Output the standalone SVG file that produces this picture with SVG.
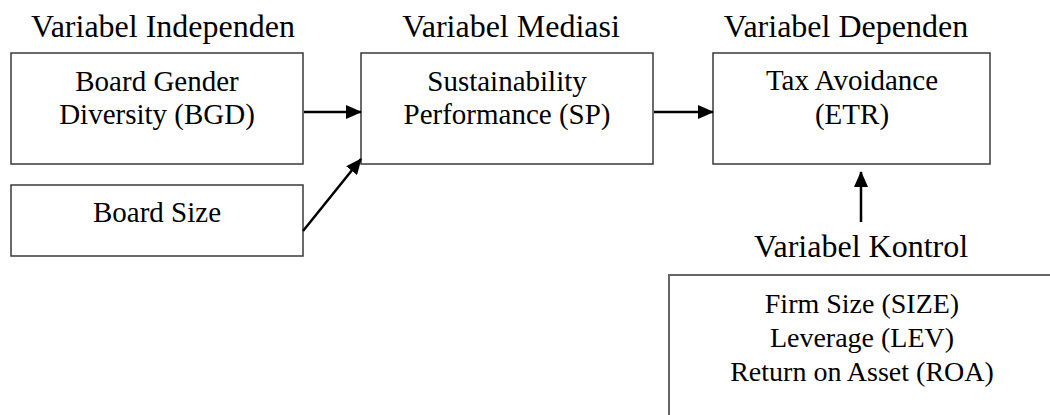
<svg xmlns="http://www.w3.org/2000/svg" width="1050" height="415" viewBox="0 0 1050 415">
  <style>
    .box { fill: #ffffff; stroke: #3a3a3a; stroke-width: 1.5; }
    .title { font-family: "Liberation Serif", "Times New Roman", serif; font-size: 32px; fill: #000; text-anchor: middle; }
    .lbl { font-family: "Liberation Serif", "Times New Roman", serif; font-size: 29px; fill: #000; text-anchor: middle; }
    .ctl { font-family: "Liberation Serif", "Times New Roman", serif; font-size: 28px; fill: #000; text-anchor: middle; }
    .conn { stroke: #000; stroke-width: 2.5; fill: none; marker-end: url(#arrow); }
  </style>
  <defs>
    <marker id="arrow" markerUnits="userSpaceOnUse" markerWidth="16" markerHeight="14" refX="15" refY="7" orient="auto">
      <path d="M0,0 L16,7 L0,14 Z" fill="#000"/>
    </marker>
  </defs>
  <rect width="1050" height="415" fill="#ffffff"/>

  <g id="titles">
    <text class="title" x="163" y="37">Variabel Independen</text>
    <text class="title" x="511" y="37">Variabel Mediasi</text>
    <text class="title" x="846" y="37">Variabel Dependen</text>
  </g>

  <g id="node-bgd">
    <rect class="box" x="11" y="53" width="292" height="111"/>
    <text class="lbl" x="157" y="91">Board Gender</text>
    <text class="lbl" x="157" y="124">Diversity (BGD)</text>
  </g>

  <g id="node-boardsize">
    <rect class="box" x="11" y="185" width="292" height="71"/>
    <text class="lbl" x="157" y="222">Board Size</text>
  </g>

  <g id="node-sp">
    <rect class="box" x="361" y="53" width="292" height="111"/>
    <text class="lbl" x="507" y="91">Sustainability</text>
    <text class="lbl" x="507" y="124">Performance (SP)</text>
  </g>

  <g id="node-etr">
    <rect class="box" x="713" y="53" width="277" height="111"/>
    <text class="lbl" x="852" y="90">Tax Avoidance</text>
    <text class="lbl" x="852" y="124">(ETR)</text>
  </g>

  <g id="node-kontrol">
    <text class="title" x="861" y="257">Variabel Kontrol</text>
    <path d="M669,415 L669,275 L1050,275" fill="none" stroke="#666666" stroke-width="2"/>
    <text class="ctl" x="862" y="313">Firm Size (SIZE)</text>
    <text class="ctl" x="862" y="347">Leverage (LEV)</text>
    <text class="ctl" x="862" y="381">Return on Asset (ROA)</text>
  </g>

  <g id="connectors">
    <line class="conn" x1="304" y1="112" x2="361" y2="112"/>
    <line class="conn" x1="654" y1="112" x2="713" y2="112"/>
    <line class="conn" x1="303" y1="231" x2="361" y2="159"/>
    <line class="conn" x1="861" y1="222" x2="861" y2="172"/>
  </g>
</svg>
